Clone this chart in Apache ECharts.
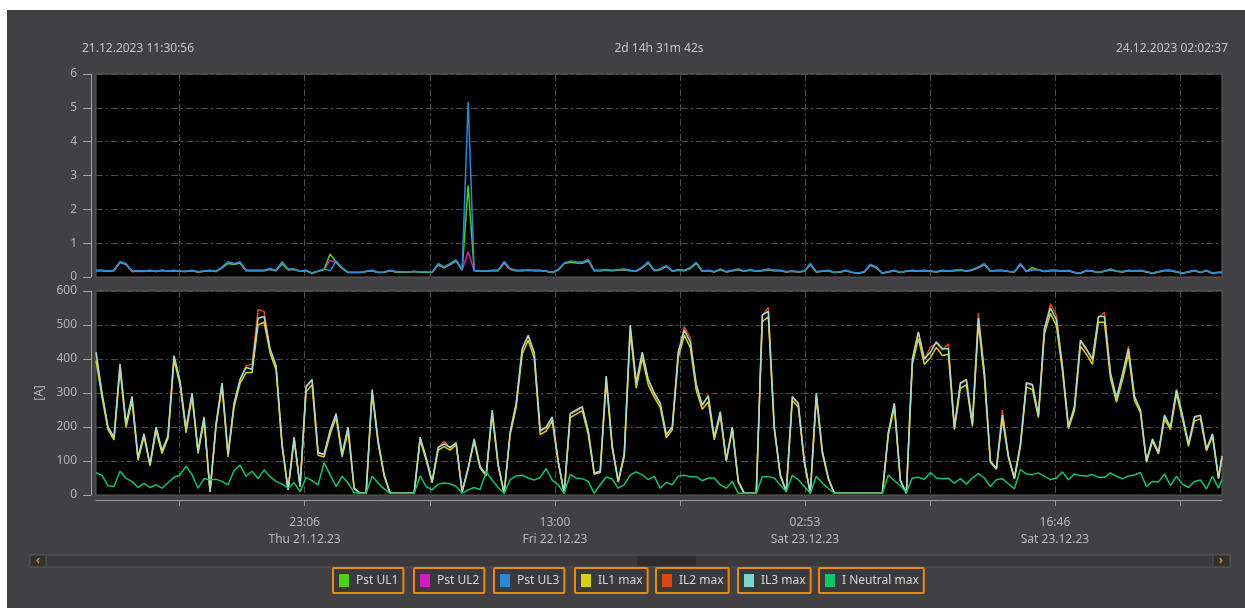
<!DOCTYPE html>
<html><head><meta charset="utf-8">
<script src="https://cdn.jsdelivr.net/npm/echarts@6/dist/echarts.min.js"></script>
<style>
html,body{margin:0;padding:0;background:#fff;overflow:hidden;}
#panel{position:absolute;left:7px;top:10px;width:1238px;height:598px;background:#414143;}
#chart{position:absolute;left:0;top:0;width:1245px;height:608px;}
</style></head>
<body><div id="panel"></div><div id="chart"></div>
<script>
// ---------- data ----------
const startTime = '2023-12-21 11:30:56';
const endTime = '2023-12-24 02:02:37';
const durationLabel = '2d 14h 31m 42s';
const sampleStepMinutes = 20;
const tickTimes = ['2023-12-21 16:09:30','2023-12-21 23:06:00','2023-12-22 06:03:00','2023-12-22 13:00:00',
  '2023-12-22 19:56:30','2023-12-23 02:53:00','2023-12-23 09:49:30','2023-12-23 16:46:00','2023-12-23 23:43:00'];
const labelTimes = ['2023-12-21 23:06:00','2023-12-22 13:00:00','2023-12-23 02:53:00','2023-12-23 16:46:00'];
const dayNames = ['Sun','Mon','Tue','Wed','Thu','Fri','Sat'];
const seriesNames = ['Pst UL1','Pst UL2','Pst UL3','IL1 max','IL2 max','IL3 max','I Neutral max'];
const yTopTicks = [0, 6, 1];
const yBottomTicks = [0, 600, 100];
const yBottomName = '[A]';

const pstUL1 = [0.19,0.19,0.17,0.19,0.44,0.38,0.16,0.18,0.17,0.19,
0.16,0.19,0.17,0.19,0.17,0.16,0.19,0.15,0.17,0.19,
0.16,0.28,0.4,0.38,0.41,0.19,0.19,0.19,0.19,0.23,
0.19,0.4,0.22,0.23,0.17,0.19,0.11,0.17,0.22,0.68,
0.44,0.26,0.13,0.13,0.13,0.16,0.19,0.13,0.14,0.19,
0.15,0.15,0.14,0.16,0.14,0.15,0.13,0.37,0.28,0.38,
0.48,0.21,2.7,0.19,0.17,0.17,0.19,0.19,0.43,0.23,
0.19,0.19,0.19,0.19,0.19,0.17,0.13,0.21,0.4,0.44,
0.42,0.41,0.49,0.19,0.19,0.21,0.19,0.21,0.22,0.19,
0.17,0.28,0.42,0.19,0.22,0.32,0.17,0.21,0.19,0.26,
0.41,0.17,0.19,0.15,0.22,0.15,0.19,0.22,0.17,0.21,
0.17,0.19,0.22,0.19,0.19,0.15,0.17,0.15,0.17,0.38,
0.15,0.17,0.19,0.13,0.15,0.19,0.13,0.11,0.15,0.36,
0.28,0.11,0.15,0.19,0.13,0.17,0.19,0.17,0.19,0.17,
0.15,0.19,0.17,0.19,0.21,0.17,0.21,0.28,0.38,0.17,
0.19,0.19,0.16,0.15,0.38,0.16,0.28,0.21,0.16,0.19,
0.19,0.17,0.19,0.13,0.11,0.19,0.17,0.13,0.17,0.22,
0.17,0.15,0.19,0.17,0.19,0.15,0.11,0.15,0.19,0.19,
0.15,0.11,0.15,0.19,0.13,0.19,0.11,0.13,
0.13];
const pstUL2 = [0.18,0.18,0.16,0.18,0.42,0.36,0.16,0.17,0.16,0.18,
0.16,0.2,0.17,0.18,0.17,0.16,0.18,0.15,0.17,0.18,
0.16,0.27,0.41,0.37,0.41,0.18,0.18,0.18,0.18,0.22,
0.18,0.39,0.21,0.22,0.17,0.18,0.11,0.17,0.21,0.5,
0.42,0.25,0.13,0.13,0.13,0.16,0.18,0.13,0.14,0.18,
0.15,0.15,0.14,0.16,0.14,0.15,0.13,0.36,0.27,0.36,
0.46,0.2,0.75,0.18,0.17,0.17,0.18,0.18,0.41,0.22,
0.18,0.18,0.22,0.18,0.18,0.17,0.13,0.2,0.4,0.43,
0.41,0.4,0.47,0.18,0.18,0.2,0.18,0.2,0.21,0.18,
0.17,0.27,0.41,0.18,0.21,0.31,0.17,0.2,0.18,0.25,
0.4,0.17,0.18,0.15,0.21,0.15,0.18,0.21,0.17,0.2,
0.17,0.18,0.21,0.18,0.18,0.15,0.17,0.15,0.17,0.36,
0.15,0.17,0.18,0.13,0.15,0.18,0.13,0.11,0.15,0.34,
0.27,0.11,0.15,0.18,0.13,0.17,0.18,0.17,0.18,0.17,
0.15,0.18,0.17,0.18,0.2,0.17,0.2,0.27,0.36,0.17,
0.18,0.18,0.16,0.15,0.36,0.16,0.22,0.2,0.16,0.18,
0.18,0.17,0.18,0.13,0.11,0.18,0.17,0.13,0.17,0.21,
0.17,0.15,0.18,0.17,0.18,0.15,0.11,0.15,0.18,0.18,
0.15,0.11,0.15,0.18,0.13,0.18,0.11,0.13,
0.13];
const pstUL3 = [0.2,0.2,0.18,0.2,0.46,0.4,0.17,0.19,0.18,0.2,
0.17,0.2,0.18,0.2,0.18,0.17,0.2,0.16,0.18,0.2,
0.17,0.3,0.45,0.4,0.45,0.2,0.2,0.2,0.2,0.25,
0.2,0.45,0.24,0.24,0.18,0.2,0.12,0.18,0.24,0.18,
0.47,0.28,0.14,0.14,0.14,0.17,0.2,0.14,0.15,0.2,
0.16,0.16,0.15,0.17,0.15,0.16,0.14,0.4,0.3,0.4,
0.51,0.22,5.18,0.2,0.18,0.18,0.2,0.2,0.46,0.25,
0.2,0.2,0.2,0.2,0.2,0.18,0.14,0.22,0.42,0.47,
0.45,0.44,0.52,0.2,0.2,0.22,0.2,0.22,0.24,0.2,
0.18,0.3,0.45,0.2,0.24,0.34,0.18,0.22,0.2,0.28,
0.44,0.18,0.2,0.16,0.24,0.16,0.2,0.24,0.18,0.22,
0.18,0.2,0.24,0.2,0.2,0.16,0.18,0.16,0.18,0.4,
0.16,0.18,0.2,0.14,0.16,0.2,0.14,0.12,0.16,0.38,
0.3,0.12,0.16,0.2,0.14,0.18,0.2,0.18,0.2,0.18,
0.16,0.2,0.18,0.2,0.22,0.18,0.22,0.3,0.4,0.18,
0.2,0.2,0.17,0.16,0.4,0.17,0.2,0.22,0.17,0.2,
0.2,0.18,0.2,0.14,0.12,0.2,0.18,0.14,0.18,0.24,
0.18,0.16,0.2,0.18,0.2,0.16,0.12,0.16,0.2,0.2,
0.16,0.12,0.16,0.2,0.14,0.2,0.12,0.14,
0.14];
const il1Max = [395,288,192,162,370,198,278,102,172,86,
188,122,167,398,323,183,288,122,218,10,
202,318,112,258,328,360,360,500,508,418,
368,142,15,162,25,304,324,117,112,178,
228,112,188,20,5,5,298,152,56,5,
5,5,5,5,162,102,36,132,142,132,
147,10,76,157,79,56,238,86,5,178,
258,414,455,404,178,188,218,96,5,228,
238,248,178,61,66,334,137,38,112,480,
314,404,324,288,258,168,192,404,470,434,
308,252,274,162,233,99,192,38,5,5,
5,510,524,192,56,10,278,258,96,5,
288,122,48,5,5,5,5,5,5,5,
5,5,177,258,42,5,384,460,384,404,
434,410,414,192,314,324,202,504,344,96,
76,224,110,48,142,318,310,228,474,534,
498,364,195,248,438,414,384,508,508,344,
273,338,414,278,242,96,158,121,224,192,
298,224,143,218,224,130,172,48,
110];
const il2Max = [417,297,197,168,382,207,287,108,177,88,
197,128,172,407,332,192,297,128,227,10,
207,327,118,267,337,380,385,545,540,427,
377,148,15,168,25,317,337,123,118,187,
237,118,197,20,5,5,307,158,58,5,
5,5,5,5,167,108,40,138,158,137,
151,10,78,162,81,58,247,88,5,183,
267,427,467,417,187,197,227,98,5,237,
247,257,187,63,68,347,143,40,118,497,
327,417,337,297,267,175,197,417,495,462,
322,262,295,168,242,101,197,40,5,5,
5,527,552,197,58,10,287,267,98,5,
297,128,48,5,5,5,5,5,5,5,
5,5,182,267,42,5,397,477,397,435,
447,427,445,197,327,337,207,535,357,98,
76,250,113,48,147,327,322,232,487,562,
528,377,198,257,452,427,397,522,537,357,
282,352,437,287,247,98,162,123,232,197,
307,232,147,227,232,133,177,48,
113];
const il3Max = [420,300,200,170,385,210,290,110,180,90,
200,130,175,410,335,195,300,130,230,10,
210,330,120,270,340,375,370,520,525,430,
380,150,15,170,25,320,340,125,120,190,
240,120,200,20,5,5,310,160,60,5,
5,5,5,5,170,110,40,140,150,140,
154,10,80,165,83,60,250,90,5,186,
270,430,470,420,190,200,230,100,5,240,
250,260,190,65,70,350,145,40,120,500,
330,420,340,300,270,178,200,420,485,450,
325,265,290,170,245,103,200,40,5,5,
5,530,540,200,60,10,290,270,100,5,
300,130,50,5,5,5,5,5,5,5,
5,5,185,270,44,5,400,480,400,420,
450,430,430,200,330,340,210,520,360,100,
78,235,115,50,150,330,325,235,490,550,
515,380,201,260,455,430,400,525,525,360,
285,355,430,290,250,100,165,125,235,200,
310,235,150,230,235,135,180,50,
115];
const iNeutralMax = [66,58,27,25,70,49,40,22,34,22,
30,20,36,52,59,85,60,20,48,45,
46,40,30,72,88,55,70,48,74,54,
40,32,20,36,10,52,42,30,95,60,
25,55,35,7,5,5,55,35,18,5,
5,5,5,5,56,25,15,32,35,33,
25,5,15,22,16,68,44,22,5,45,
56,58,50,44,52,78,44,30,5,60,
50,48,40,5,30,53,47,20,30,59,
68,60,45,55,20,37,30,55,58,54,
54,42,50,50,30,20,40,5,5,5,
5,54,54,50,29,10,58,45,25,5,
55,35,20,5,5,5,5,5,5,5,
5,5,59,42,28,7,50,52,46,66,
50,48,49,35,48,32,50,63,50,25,
45,48,33,18,75,62,60,65,55,45,
50,68,45,62,57,56,60,52,52,65,
55,48,56,59,66,25,40,38,62,28,
55,32,22,40,44,18,55,20,
46];

// ---------- helpers ----------
function toMs(s){const [d,t]=s.split(' ');const [Y,M,D]=d.split('-').map(Number);const [h,m,sec]=t.split(':').map(Number);return Date.UTC(Y,M-1,D,h,m,sec);}
const p2=n=>String(n).padStart(2,'0');
function fmtHeader(ms){const d=new Date(ms);return p2(d.getUTCDate())+'.'+p2(d.getUTCMonth()+1)+'.'+d.getUTCFullYear()+' '+p2(d.getUTCHours())+':'+p2(d.getUTCMinutes())+':'+p2(d.getUTCSeconds());}
function fmtAxis(ms){const d=new Date(ms);return p2(d.getUTCHours())+':'+p2(d.getUTCMinutes())+'\n'+dayNames[d.getUTCDay()]+' '+p2(d.getUTCDate())+'.'+p2(d.getUTCMonth()+1)+'.'+String(d.getUTCFullYear()).slice(2);}
const t0=toMs(startTime), tEnd=toMs(endTime);
function pairs(vals){return vals.map((v,i)=>[i<vals.length-1?t0+i*sampleStepMinutes*60000:tEnd, v]);}
const tickMs=tickTimes.map(toMs), labelMs=labelTimes.map(toMs);

const FONT='Noto Sans';
const colors={'Pst UL1':'#4fd11a','Pst UL2':'#d41cc4','Pst UL3':'#2a88d8','IL1 max':'#d6d016','IL2 max':'#d9480f','IL3 max':'#a4dcd4','I Neutral max':'#12c466'};
const legendColors={'IL3 max':'#7fd3cd'};
const zOrder={'Pst UL1':3,'Pst UL2':2,'Pst UL3':4,'IL1 max':3,'IL2 max':2,'IL3 max':4,'I Neutral max':5};
const gridLine={color:'#4c4c4c',width:1,type:[7,3,2,3]};
const legendLeft=[333,414,494,575,656,738,819];

const chart=echarts.init(document.getElementById('chart'),null,{renderer:'canvas'});
const values=[pstUL1,pstUL2,pstUL3,il1Max,il2Max,il3Max,iNeutralMax];
const series=seriesNames.map((n,k)=>({
  name:n,type:'line',xAxisIndex:k<3?0:1,yAxisIndex:k<3?0:1,
  data:pairs(values[k]),showSymbol:false,symbol:'none',
  color:colors[n],lineStyle:{width:1.5,color:colors[n]},
  itemStyle:{color:legendColors[n]||colors[n]},
  animation:false,z:zOrder[n],emphasis:{disabled:true}
}));

const option={
  backgroundColor:'transparent',
  animation:false,
  textStyle:{fontFamily:FONT},
  title:[
    {text:fmtHeader(t0),left:82,top:43,textStyle:{color:'#c4c4c4',fontSize:12,fontWeight:'normal',fontFamily:FONT},padding:0},
    {text:durationLabel,left:659,top:43,textAlign:'center',textStyle:{color:'#c4c4c4',fontSize:12,fontWeight:'normal',fontFamily:FONT},padding:0},
    {text:fmtHeader(tEnd),right:17,top:43,textStyle:{color:'#c4c4c4',fontSize:12,fontWeight:'normal',fontFamily:FONT},padding:0}
  ],
  grid:[
    {left:96,top:74,width:1126,height:203,show:true,backgroundColor:'#000',borderColor:'#5e5e5e',borderWidth:1,containLabel:false},
    {left:96,top:291,width:1126,height:204,show:true,backgroundColor:'#000',borderColor:'#5e5e5e',borderWidth:1,containLabel:false}
  ],
  xAxis:[
    {type:'value',gridIndex:0,min:t0,max:tEnd,axisLine:{show:false},
     axisTick:{show:false,customValues:tickMs},axisLabel:{show:false,customValues:labelMs},
     splitLine:{show:true,lineStyle:gridLine}},
    {type:'value',gridIndex:1,min:t0,max:tEnd,position:'bottom',offset:5,
     axisLine:{show:true,onZero:false,lineStyle:{color:'#9c9c9c',width:1}},
     axisTick:{show:true,length:6,customValues:tickMs,lineStyle:{color:'#9c9c9c'}},
     axisLabel:{show:true,customValues:labelMs,formatter:fmtAxis,color:'#b8b8b8',fontSize:12,lineHeight:17,margin:14,fontFamily:FONT},
     splitLine:{show:true,lineStyle:gridLine}}
  ],
  yAxis:[
    {type:'value',gridIndex:0,min:yTopTicks[0],max:yTopTicks[1],interval:yTopTicks[2],offset:5,
     axisLine:{show:true,lineStyle:{color:'#a4a4a4'}},axisTick:{show:true,length:8,lineStyle:{color:'#a4a4a4'}},
     axisLabel:{color:'#b4b4b4',fontSize:12,margin:14,fontFamily:FONT},
     splitLine:{show:true,lineStyle:gridLine}},
    {type:'value',gridIndex:1,min:yBottomTicks[0],max:yBottomTicks[1],interval:yBottomTicks[2],offset:5,
     name:yBottomName,nameLocation:'middle',nameRotate:90,nameGap:41,
     nameTextStyle:{color:'#b4b4b4',fontSize:12,fontFamily:FONT},
     axisLine:{show:true,lineStyle:{color:'#a4a4a4'}},axisTick:{show:true,length:8,lineStyle:{color:'#a4a4a4'}},
     axisLabel:{color:'#b4b4b4',fontSize:12,margin:14,fontFamily:FONT},
     splitLine:{show:true,lineStyle:gridLine}}
  ],
  legend:seriesNames.map((n,k)=>({
    data:[n],left:legendLeft[k],top:568,orient:'horizontal',
    icon:'rect',itemWidth:10,itemHeight:13,itemGap:0,
    padding:[6,5,6,6],borderColor:'#ea8a16',borderWidth:2,borderRadius:1,
    backgroundColor:'#3a3a3c',selectedMode:false,
    textStyle:{color:'#d6d6d6',fontSize:12,fontFamily:FONT,padding:[0,0,0,2]}
  })),
  graphic:[
    {type:'rect',shape:{x:30,y:555,width:1200,height:12},style:{fill:'#3a3a3c',stroke:'#555557',lineWidth:1},silent:true},
    {type:'rect',shape:{x:30,y:555,width:16,height:12},style:{fill:'#313133',stroke:'#555557',lineWidth:1},silent:true},
    {type:'text',x:38,y:561,style:{text:'‹',fill:'#e08516',font:'bold 12px "Noto Sans"',align:'center',verticalAlign:'middle'},silent:true},
    {type:'rect',shape:{x:1213,y:555,width:17,height:12},style:{fill:'#313133',stroke:'#555557',lineWidth:1},silent:true},
    {type:'text',x:1221,y:561,style:{text:'›',fill:'#e08516',font:'bold 12px "Noto Sans"',align:'center',verticalAlign:'middle'},silent:true},
    {type:'rect',shape:{x:637,y:556,width:59,height:10,r:2},style:{fill:'#2c2c2e'},silent:true}
  ],
  series:series
};
chart.setOption(option);
</script>
</body></html>
